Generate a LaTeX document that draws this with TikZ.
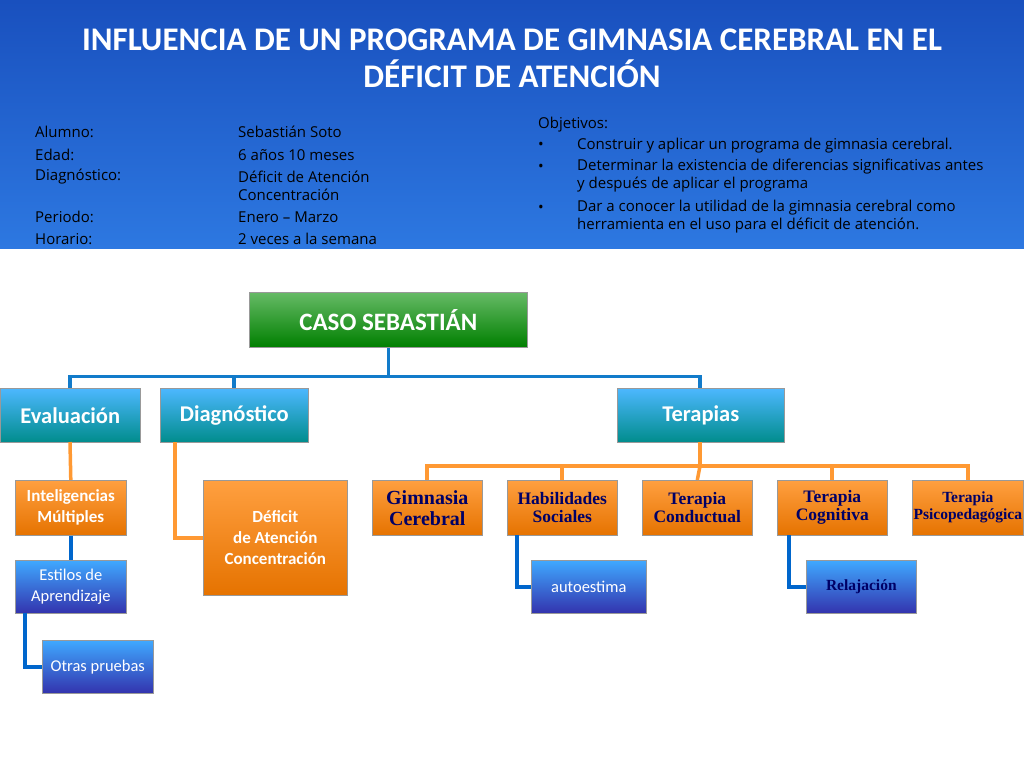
\documentclass[tikz,border=0pt]{standalone}
\usepackage{fontspec}
\setmainfont{Carlito}
\newfontfamily\tnr{Liberation Serif}
\newfontfamily\osans{Open Sans}
\definecolor{hdtop}{RGB}{25,80,190}
\definecolor{hdbot}{RGB}{45,120,225}
\begin{document}
\begin{tikzpicture}[x=1pt,y=-1pt,
 base/.style={draw=black!40,line width=0.6pt,text=white,align=center,inner sep=2pt,anchor=north west},
 green/.style={base,top color=green!55!black!60,bottom color=green!50!black,font=\bfseries\fontsize{25}{28}\selectfont},
 teal/.style={base,top color=cyan!60!blue!70,bottom color=cyan!55!black,font=\bfseries\fontsize{22.5}{24}\selectfont},
 orng/.style={base,top color=orange!75,bottom color=orange!90!black,font=\bfseries\fontsize{17}{21}\selectfont},
 orngt/.style={base,top color=orange!75,bottom color=orange!90!black,text=blue!40!black,font=\tnr\bfseries\fontsize{17.5}{18}\selectfont},
 blu/.style={base,top color=blue!45!cyan!75,bottom color=blue!60!black!80,font=\fontsize{16.5}{21}\selectfont},
 tl/.style={cyan!60!blue,line width=3.5pt},
 ol/.style={orange!80,line width=3.5pt},
 bl/.style={blue!50!cyan!80!black,line width=3.5pt},
 info/.style={anchor=west,text=black,font=\osans\fontsize{15}{16}\selectfont,inner sep=0pt}]
\useasboundingbox (0,0) rectangle (1024,768);
\shade[top color=hdtop,bottom color=hdbot] (0,0) rectangle (1024,248);
\node[text=white,font=\bfseries\fontsize{33}{37}\selectfont,align=center] (title) at (512,58) {INFLUENCIA DE UN PROGRAMA DE GIMNASIA CEREBRAL EN EL\\DÉFICIT DE ATENCIÓN};
\node[info] (a1) at (35,132) {Alumno:};
\node[info] (a2) at (35,155) {Edad:};
\node[info] (a3) at (35,177) {Diagnóstico:};
\node[info] (a4) at (35,217) {Periodo:};
\node[info] (a5) at (35,239) {Horario:};
\node[info] (b1) at (238,132) {Sebastián Soto};
\node[info] (b2) at (238,155) {6 años 10 meses};
\node[info] (b3) at (238,186) {\parbox{170pt}{\baselineskip=18pt Déficit de Atención\\Concentración}};
\node[info] (b4) at (238,217) {Enero – Marzo};
\node[info] (b5) at (238,239) {2 veces a la semana};
\node[info] (o0) at (538,125) {Objetivos:};
\node[info] (u1) at (538,146) {•};
\node[info] (o1) at (577,146) {Construir y aplicar un programa de gimnasia cerebral.};
\node[info] (u2) at (538,168) {•};
\node[info,anchor=north west] (o2) at (577,159) {\parbox{450pt}{\baselineskip=18pt Determinar la existencia de diferencias significativas antes\\y después de aplicar el programa}};
\node[info] (u3) at (538,209) {•};
\node[info,anchor=north west] (o3) at (577,200) {\parbox{450pt}{\baselineskip=18pt Dar a conocer la utilidad de la gimnasia cerebral como\\herramienta en el uso para el déficit de atención.}};
% nodes
\node[green,minimum width=278pt,minimum height=55pt] (caso) at (249,292) {CASO SEBASTIÁN};
\node[teal,minimum width=140pt,minimum height=54pt] (eva) at (0,388) {Evaluación};
\node[teal,minimum width=148pt,minimum height=54pt] (dia) at (160,388) {Diagnóstico};
\node[teal,minimum width=167pt,minimum height=54pt] (ter) at (617,388) {Terapias};
\node[orng,minimum width=111pt,minimum height=55pt] (int) at (15,480) {Inteligencias\\Múltiples};
\node[blu,minimum width=111pt,minimum height=53pt] (est) at (15,560) {Estilos de\\Aprendizaje};
\node[blu,minimum width=111pt,minimum height=53pt] (otr) at (42,640) {Otras pruebas};
\node[orng,minimum width=144pt,minimum height=115pt] (def) at (203,480) {Déficit\\de Atención\\Concentración};
\node[orngt,minimum width=110pt,minimum height=55pt,font=\tnr\bfseries\fontsize{20}{21}\selectfont] (gim) at (372,480) {Gimnasia\\Cerebral};
\node[orngt,minimum width=110pt,minimum height=55pt] (hab) at (507,480) {Habilidades\\Sociales};
\node[orngt,minimum width=110pt,minimum height=55pt] (con) at (642,480) {Terapia\\Conductual};
\node[orngt,minimum width=110pt,minimum height=55pt] (cog) at (777,480) {Terapia\\Cognitiva};
\node[orngt,minimum width=111pt,minimum height=55pt,inner sep=0pt,font=\tnr\bfseries\fontsize{15.5}{17}\selectfont] (psi) at (912,480) {Terapia\\Psicopedagógica};
\node[blu,minimum width=115pt,minimum height=53pt] (aut) at (531,560) {autoestima};
\node[blu,minimum width=110pt,minimum height=53pt,text=blue!40!black,font=\tnr\bfseries\fontsize{15.5}{16}\selectfont] (rel) at (806,560) {Relajación};
% connectors
\draw[tl] (caso.south) -- ++(0,29) -| (70,388);
\draw[tl] (caso.south) ++(0,29) -| (234,388);
\draw[tl] (caso.south) ++(0,29) -| (700,388);
\draw[ol] (70,442) -- (int.north);
\draw[bl] (int.south) -- (est.north);
\draw[bl] (25,613) |- (otr.west);
\draw[ol] (175,442) |- (def.west);
\draw[ol] (700,442) -- (700,466) -| (427,480);
\draw[ol] (700,466) -| (968,480);
\draw[ol] (700,466) -| (562,480);
\draw[ol] (700,466) -| (832,480);
\draw[ol] (700,466) -- (con.north);
\draw[bl] (517,535) |- (aut.west);
\draw[bl] (789,535) |- (rel.west);
\end{tikzpicture}
\end{document}
